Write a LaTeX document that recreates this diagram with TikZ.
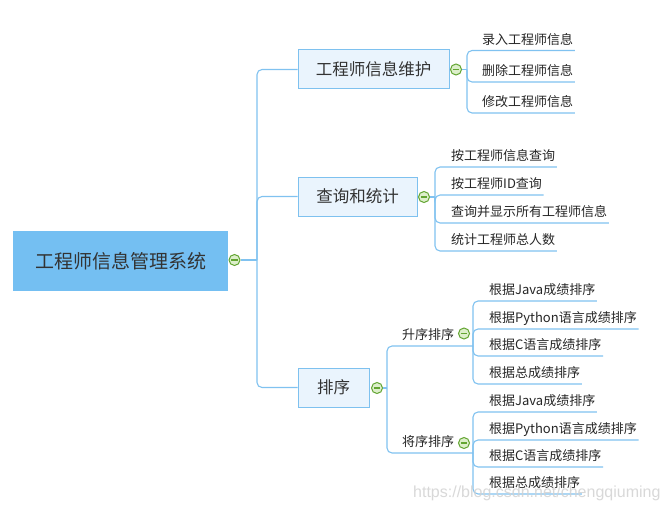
\documentclass[tikz,border=0pt]{standalone}
\usepackage{fontspec}
\setmainfont{Noto Sans CJK SC}
\newfontfamily\wmfont{Liberation Sans}
\definecolor{rootfill}{HTML}{74BFF2}
\definecolor{boxfill}{HTML}{EAF4FD}
\definecolor{boxline}{HTML}{7EC1EF}
\definecolor{conncol}{HTML}{80C2F0}
\definecolor{knobline}{HTML}{63A532}
\definecolor{knobfill}{HTML}{DDEFCB}
\definecolor{txt}{HTML}{333333}
\tikzset{
 conn/.style={draw=conncol, line width=1.1pt, rounded corners=5pt},
 rootbox/.style={fill=rootfill, draw=none, minimum width=215pt, minimum height=60pt, inner sep=0pt, font=\fontsize{19}{23}\selectfont, text=txt},
 topicbox/.style={fill=boxfill, draw=boxline, line width=1pt, minimum height=39pt, inner sep=0pt, font=\fontsize{16.5}{20}\selectfont, text=txt},
 leaf/.style={anchor=south west, inner xsep=1.5pt, inner ysep=0pt, text height=10pt, text depth=6pt, font=\fontsize{13}{16}\selectfont, text=black!85},
 knob/.style={circle, draw=knobline, fill=knobfill, line width=1pt, minimum size=11pt, inner sep=0pt,
   path picture={\draw[knobline, line width=1.1pt] ([xshift=-3.2pt]path picture bounding box.center) -- ([xshift=3.2pt]path picture bounding box.center);}},
}
\begin{document}
\begin{tikzpicture}[x=1pt,y=-1pt]
\useasboundingbox (0,0) rectangle (667,511);
\fill[white] (0,0) rectangle (667,511);
% root
\node[rootbox] (root) at (120.5,261) {工程师信息管理系统};
\node[knob] (rk) at (234.5,260) {};
\coordinate (t0) at (257,260);
% topics
\node[topicbox, minimum width=151pt] (b1) at (373.5,69.5) {工程师信息维护};
\node[topicbox, minimum width=119pt] (b2) at (357.5,196.5) {查询和统计};
\node[topicbox, minimum width=71pt] (b3) at (333.5,387.5) {排序};
\draw[conn] (rk.east) -- (t0);
\draw[conn] (t0) |- (b1.west);
\draw[conn] (t0) |- (b2.west);
\draw[conn] (t0) |- (b3.west);
% group 1
\node[knob] (k1) at (456,69.5) {};
\coordinate (p1) at (467,69.5);
\node[leaf] (l11) at (480.5,50.5) {录入工程师信息};
\node[leaf] (l12) at (480.5,82) {删除工程师信息};
\node[leaf] (l13) at (480.5,113) {修改工程师信息};
\draw[conn] (k1.east) -- (p1);
\draw[conn] (p1) |- (l11.south east);
\draw[conn] (p1) |- (l12.south east);
\draw[conn] (p1) |- (l13.south east);
% group 2
\node[knob] (k2) at (424,197) {};
\coordinate (p2) at (435,197);
\node[leaf] (l21) at (449.5,167) {按工程师信息查询};
\node[leaf] (l22) at (449.5,195) {按工程师ID查询};
\node[leaf] (l23) at (449.5,223) {查询并显示所有工程师信息};
\node[leaf] (l24) at (449.5,251) {统计工程师总人数};
\draw[conn] (k2.east) -- (p2);
\draw[conn] (p2) |- (l21.south east);
\draw[conn] (p2) |- (l22.south east);
\draw[conn] (p2) |- (l23.south east);
\draw[conn] (p2) |- (l24.south east);
% group 3
\node[knob] (k3) at (377,388) {};
\coordinate (p3) at (387,388);
\draw[conn] (k3.east) -- (p3);
\node[leaf] (s1) at (400.5,346) {升序排序};
\node[knob] (ks1) at (464,333.5) {};
\coordinate (s1e) at (473,346);
\node[leaf] (s2) at (400.5,453) {将序排序};
\node[knob] (ks2) at (464,443) {};
\coordinate (s2e) at (473,453);
\draw[conn] (p3) |- (s1e);
\draw[conn] (p3) |- (s2e);
% ascending children
\node[leaf] (m11) at (487.5,301) {根据Java成绩排序};
\node[leaf] (m12) at (487.5,329) {根据Python语言成绩排序};
\node[leaf] (m13) at (487.5,356) {根据C语言成绩排序};
\node[leaf] (m14) at (487.5,384) {根据总成绩排序};
\draw[conn] (s1e) |- (m11.south east);
\draw[conn] (s1e) |- (m12.south east);
\draw[conn] (s1e) |- (m13.south east);
\draw[conn] (s1e) |- (m14.south east);
% descending children
\node[leaf] (m21) at (487.5,412) {根据Java成绩排序};
\node[leaf] (m22) at (487.5,440) {根据Python语言成绩排序};
\node[leaf] (m23) at (487.5,467) {根据C语言成绩排序};
\node[leaf] (m24) at (487.5,494) {根据总成绩排序};
\draw[conn] (s2e) |- (m21.south east);
\draw[conn] (s2e) |- (m22.south east);
\draw[conn] (s2e) |- (m23.south east);
\draw[conn] (s2e) |- (m24.south east);
% watermark
\node[anchor=west, inner sep=0pt, font=\wmfont\fontsize{16}{19}\selectfont, text=gray!35, opacity=0.85] (wm) at (413,493) {https://blog.csdn.net/chengqiuming};
\end{tikzpicture}
\end{document}
